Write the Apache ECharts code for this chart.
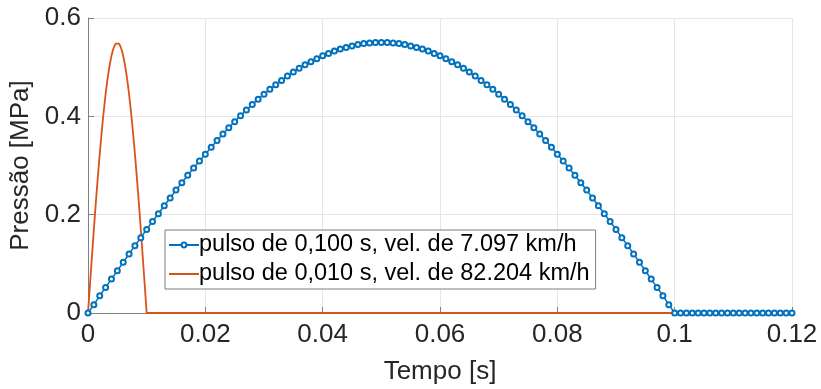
<!DOCTYPE html>
<html>
<head>
<meta charset="utf-8">
<script src="https://cdn.jsdelivr.net/npm/echarts@6/dist/echarts.min.js"></script>
<style>
  html, body { margin: 0; padding: 0; background: #fff; }
  #chart { width: 821px; height: 389px; }
</style>
</head>
<body>
<div id="chart"></div>
<script>
// time in ms, pressure in MPa
const blueTime = [
  0, 1, 2, 3, 4, 5, 6, 7, 8, 9,
  10, 11, 12, 13, 14, 15, 16, 17, 18, 19,
  20, 21, 22, 23, 24, 25, 26, 27, 28, 29,
  30, 31, 32, 33, 34, 35, 36, 37, 38, 39,
  40, 41, 42, 43, 44, 45, 46, 47, 48, 49,
  50, 51, 52, 53, 54, 55, 56, 57, 58, 59,
  60, 61, 62, 63, 64, 65, 66, 67, 68, 69,
  70, 71, 72, 73, 74, 75, 76, 77, 78, 79,
  80, 81, 82, 83, 84, 85, 86, 87, 88, 89,
  90, 91, 92, 93, 94, 95, 96, 97, 98, 99,
  100, 101, 102, 103, 104, 105, 106, 107, 108, 109,
  110, 111, 112, 113, 114, 115, 116, 117, 118, 119,
  120
];
const bluePressure = [
  0, 0.017, 0.035, 0.052, 0.069, 0.086, 0.103, 0.120, 0.137, 0.153,
  0.170, 0.186, 0.202, 0.218, 0.234, 0.250, 0.265, 0.280, 0.295, 0.309,
  0.323, 0.337, 0.351, 0.364, 0.377, 0.389, 0.401, 0.413, 0.424, 0.435,
  0.445, 0.455, 0.464, 0.473, 0.482, 0.490, 0.498, 0.505, 0.511, 0.517,
  0.523, 0.528, 0.533, 0.537, 0.540, 0.543, 0.546, 0.548, 0.549, 0.550,
  0.550, 0.550, 0.549, 0.548, 0.546, 0.543, 0.540, 0.537, 0.533, 0.528,
  0.523, 0.517, 0.511, 0.505, 0.498, 0.490, 0.482, 0.473, 0.464, 0.455,
  0.445, 0.435, 0.424, 0.413, 0.401, 0.389, 0.377, 0.364, 0.351, 0.337,
  0.323, 0.309, 0.295, 0.280, 0.265, 0.250, 0.234, 0.218, 0.202, 0.186,
  0.170, 0.153, 0.137, 0.120, 0.103, 0.086, 0.069, 0.052, 0.035, 0.017,
  0, 0, 0, 0, 0, 0, 0, 0, 0, 0,
  0, 0, 0, 0, 0, 0, 0, 0, 0, 0,
  0
];
const orangeTime = [
  0, 0.25, 0.5, 0.75, 1, 1.25, 1.5, 1.75, 2, 2.25,
  2.5, 2.75, 3, 3.25, 3.5, 3.75, 4, 4.25, 4.5, 4.75,
  5, 5.25, 5.5, 5.75, 6, 6.25, 6.5, 6.75, 7, 7.25,
  7.5, 7.75, 8, 8.25, 8.5, 8.75, 9, 9.25, 9.5, 9.75,
  10, 120
];
const orangePressure = [
  0, 0.043, 0.086, 0.128, 0.170, 0.211, 0.250, 0.287, 0.323, 0.357,
  0.389, 0.418, 0.445, 0.469, 0.490, 0.508, 0.523, 0.535, 0.543, 0.548,
  0.550, 0.548, 0.543, 0.535, 0.523, 0.508, 0.490, 0.469, 0.445, 0.418,
  0.389, 0.357, 0.323, 0.287, 0.250, 0.211, 0.170, 0.128, 0.086, 0.043,
  0, 0
];
const seriesNames = [
  'pulso de 0,100 s, vel. de 7.097 km/h',
  'pulso de 0,010 s, vel. de 82.204 km/h'
];

const chart = echarts.init(document.getElementById('chart'), null, { renderer: 'canvas' });
const font = '"Liberation Sans", Arial, Helvetica, sans-serif';
const axisGray = '#808080';
const blue = '#0072BD';
const orange = '#D95319';

chart.setOption({
  animation: false,
  backgroundColor: '#fff',
  textStyle: { fontFamily: font },
  grid: { left: 88, right: 29, top: 18, bottom: 76, containLabel: false, outerBoundsMode: 'none' },
  legend: {
    orient: 'vertical',
    left: 165,
    top: 230,
    padding: [3, 6, 3, 3],
    itemGap: 5,
    itemWidth: 30,
    itemHeight: 6,
    borderColor: '#7f7f7f',
    borderWidth: 1,
    backgroundColor: '#fff',
    textStyle: { fontSize: 23.5, color: '#000', fontFamily: font, padding: [0, 0, 0, -5] },
    data: [
      { name: seriesNames[0] },
      { name: seriesNames[1], itemStyle: { opacity: 0 } }
    ]
  },
  xAxis: {
    type: 'value',
    min: 0,
    max: 120,
    interval: 20,
    name: 'Tempo [s]',
    nameLocation: 'middle',
    nameGap: 46,
    nameTextStyle: { fontSize: 26, color: '#262626', fontFamily: font },
    axisLine: { show: true, onZero: false, lineStyle: { color: axisGray } },
    axisTick: { show: true, inside: true, length: 6, lineStyle: { color: axisGray } },
    axisLabel: { fontSize: 26, color: '#262626', margin: 9, formatter: (v) => String(v / 1000) },
    splitLine: { show: true, lineStyle: { color: '#e6e6e6' } }
  },
  yAxis: {
    type: 'value',
    min: 0,
    max: 0.6,
    interval: 0.2,
    name: 'Pressão [MPa]',
    nameLocation: 'middle',
    nameGap: 45,
    nameTextStyle: { fontSize: 26, color: '#262626', fontFamily: font },
    axisLine: { show: true, onZero: false, lineStyle: { color: axisGray } },
    axisTick: { show: true, inside: true, length: 6, lineStyle: { color: axisGray } },
    axisLabel: { fontSize: 26, color: '#262626', margin: 7 },
    splitLine: { show: true, lineStyle: { color: '#e6e6e6' } }
  },
  series: [
    {
      name: seriesNames[0],
      type: 'line',
      data: blueTime.map((t, i) => [t, bluePressure[i]]),
      color: blue,
      lineStyle: { color: blue, width: 1.5 },
      symbol: 'emptyCircle',
      symbolSize: 5,
      showAllSymbol: true,
      itemStyle: { color: blue, borderColor: blue, borderWidth: 1.2 },
      z: 3
    },
    {
      name: seriesNames[1],
      type: 'line',
      data: orangeTime.map((t, i) => [t, orangePressure[i]]),
      color: orange,
      lineStyle: { color: orange, width: 1.8 },
      symbol: 'none',
      showSymbol: false,
      z: 2
    }
  ]
});
</script>
</body>
</html>
